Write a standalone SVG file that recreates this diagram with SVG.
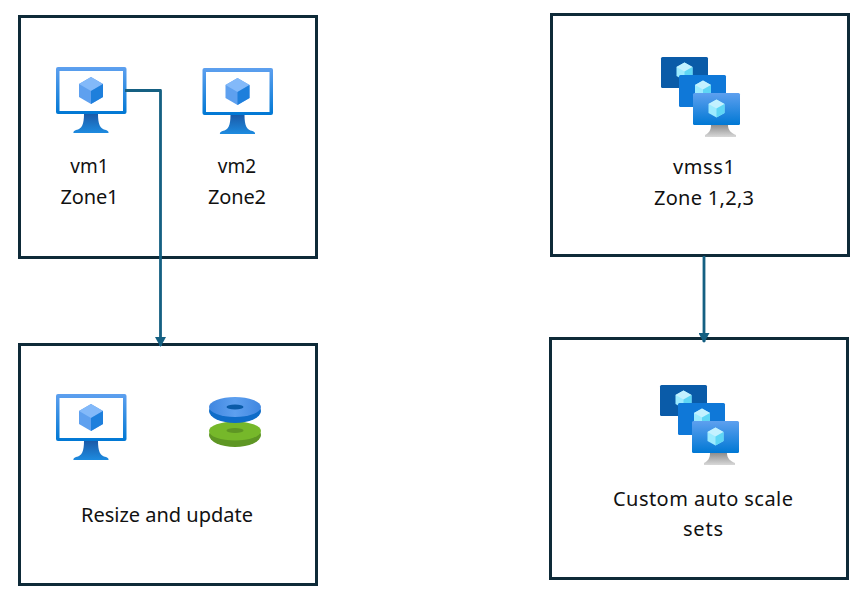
<svg xmlns="http://www.w3.org/2000/svg" width="864" height="591" viewBox="0 0 864 591">
<style>
.box{fill:#fff;stroke:#0e2a38;stroke-width:3}
.lbl{font-family:"Noto Sans","Open Sans",sans-serif;font-size:20px;fill:#111;text-anchor:middle}
.sm{font-size:19px}
.con{fill:none;stroke:#156082;stroke-width:2.800;stroke-linejoin:round}
</style>
<defs>
<linearGradient id="mon" x1="0" y1="0" x2="0" y2="1"><stop offset="0" stop-color="#5ea0ef"/><stop offset="1" stop-color="#0078d4"/></linearGradient>
<linearGradient id="std" x1="0" y1="0" x2="0" y2="1"><stop offset="0" stop-color="#1b5aa8"/><stop offset="1" stop-color="#1d8be0"/></linearGradient>
<linearGradient id="gry" x1="0" y1="0" x2="0" y2="1"><stop offset="0" stop-color="#8e8e8e"/><stop offset="1" stop-color="#d8d8d8"/></linearGradient>
<linearGradient id="blu" x1="0" y1="0" x2="1" y2="0"><stop offset="0" stop-color="#3f86e0"/><stop offset=".5" stop-color="#5ea0ef"/><stop offset="1" stop-color="#3f86e0"/></linearGradient>
<marker id="arr" markerWidth="10" markerHeight="11" refX="9" refY="5.500" orient="auto" markerUnits="userSpaceOnUse" viewBox="0 0 10 11"><path d="M0 0L10 5.500L0 11Z" fill="#156082"/></marker>
<g id="vm">
<rect x="0" y="0" width="70.500" height="47" rx="2" fill="url(#mon)"/>
<rect x="3.500" y="4" width="63.500" height="40" fill="#fff"/>
<path d="M28 47H42C42 57 44 62 50 63C53 64 53 66 52 66H18C17 66 17 64 20 63C26 62 28 57 28 47Z" fill="url(#std)"/>
<path d="M35 10L47 17V30L35 37L23 30V17Z" fill="#5ea0ef"/>
<path d="M35 10L47 17L35 24L23 17Z" fill="#83b9f9"/>
<path d="M47 17V30L35 37V24Z" fill="#1e7fdc"/>
</g>
<g id="cube">
<path d="M0 -8.500L8 -4V5L0 9.500L-8 5V-4Z" fill="#9cebff"/>
<path d="M0 -8.500L8 -4L0 .5L-8 -4Z" fill="#c3f1ff"/>
<path d="M8 -4V5L0 9.500V.5Z" fill="#5ed6f5"/>
</g>
<g id="vmss">
<rect x="0" y="0" width="47" height="31" rx="1.500" fill="#0a5ba8"/>
<use href="#cube" x="23.500" y="14"/>
<rect x="18" y="18" width="47" height="32" rx="1.500" fill="#0f78d8"/>
<use href="#cube" x="42" y="32"/>
<path d="M50 68H67C67 73 70 76 75 78V80H44V78C48 76 50 73 50 68Z" fill="url(#gry)"/>
<rect x="32" y="36" width="47" height="32" rx="1.500" fill="url(#mon)"/>
<use href="#cube" x="55.500" y="51"/>
</g>
</defs>
<g id="box-vms">
<rect class="box" x="19.500" y="16.500" width="297" height="241"/>
<use href="#vm" x="56" y="67"/>
<use href="#vm" x="202.500" y="68"/>
<text class="lbl sm" x="89.500" y="173">vm1</text>
<text class="lbl" x="89.500" y="204" textLength="58">Zone1</text>
<text class="lbl sm" x="237" y="173">vm2</text>
<text class="lbl" x="237" y="204" textLength="58">Zone2</text>
</g>
<g id="box-vmss">
<rect class="box" x="551.500" y="14.500" width="297" height="241"/>
<use href="#vmss" x="661" y="57"/>
<text class="lbl" x="704" y="174" textLength="62">vmss1</text>
<text class="lbl" x="704" y="205" textLength="100">Zone 1,2,3</text>
</g>
<g id="box-resize">
<rect class="box" x="19.500" y="344.500" width="297" height="240"/>
<use href="#vm" x="56" y="394"/>
<ellipse cx="235" cy="435" rx="26" ry="12" fill="#5e9624"/>
<ellipse cx="235" cy="431" rx="26" ry="9.500" fill="#76b82a"/>
<ellipse cx="235" cy="430.500" rx="8.500" ry="2.500" fill="#5e9624"/>
<ellipse cx="235" cy="411" rx="26" ry="12" fill="#0f6cc8"/>
<ellipse cx="235" cy="407" rx="26" ry="10" fill="url(#blu)"/>
<ellipse cx="235" cy="407" rx="8.500" ry="2.500" fill="#0a5ba8"/>
<text class="lbl" x="167" y="522" textLength="172">Resize and update</text>
</g>
<g id="box-scale">
<rect class="box" x="550.500" y="338.500" width="297" height="240"/>
<use href="#vmss" x="660" y="385"/>
<text class="lbl" x="703" y="506" textLength="180">Custom auto scale</text>
<text class="lbl" x="703" y="536" textLength="40">sets</text>
</g>
<g id="connectors">
<path class="con" d="M125 90.500H160.500V346" marker-end="url(#arr)"/>
<path class="con" d="M704 256V342" marker-end="url(#arr)"/>
</g>
</svg>
